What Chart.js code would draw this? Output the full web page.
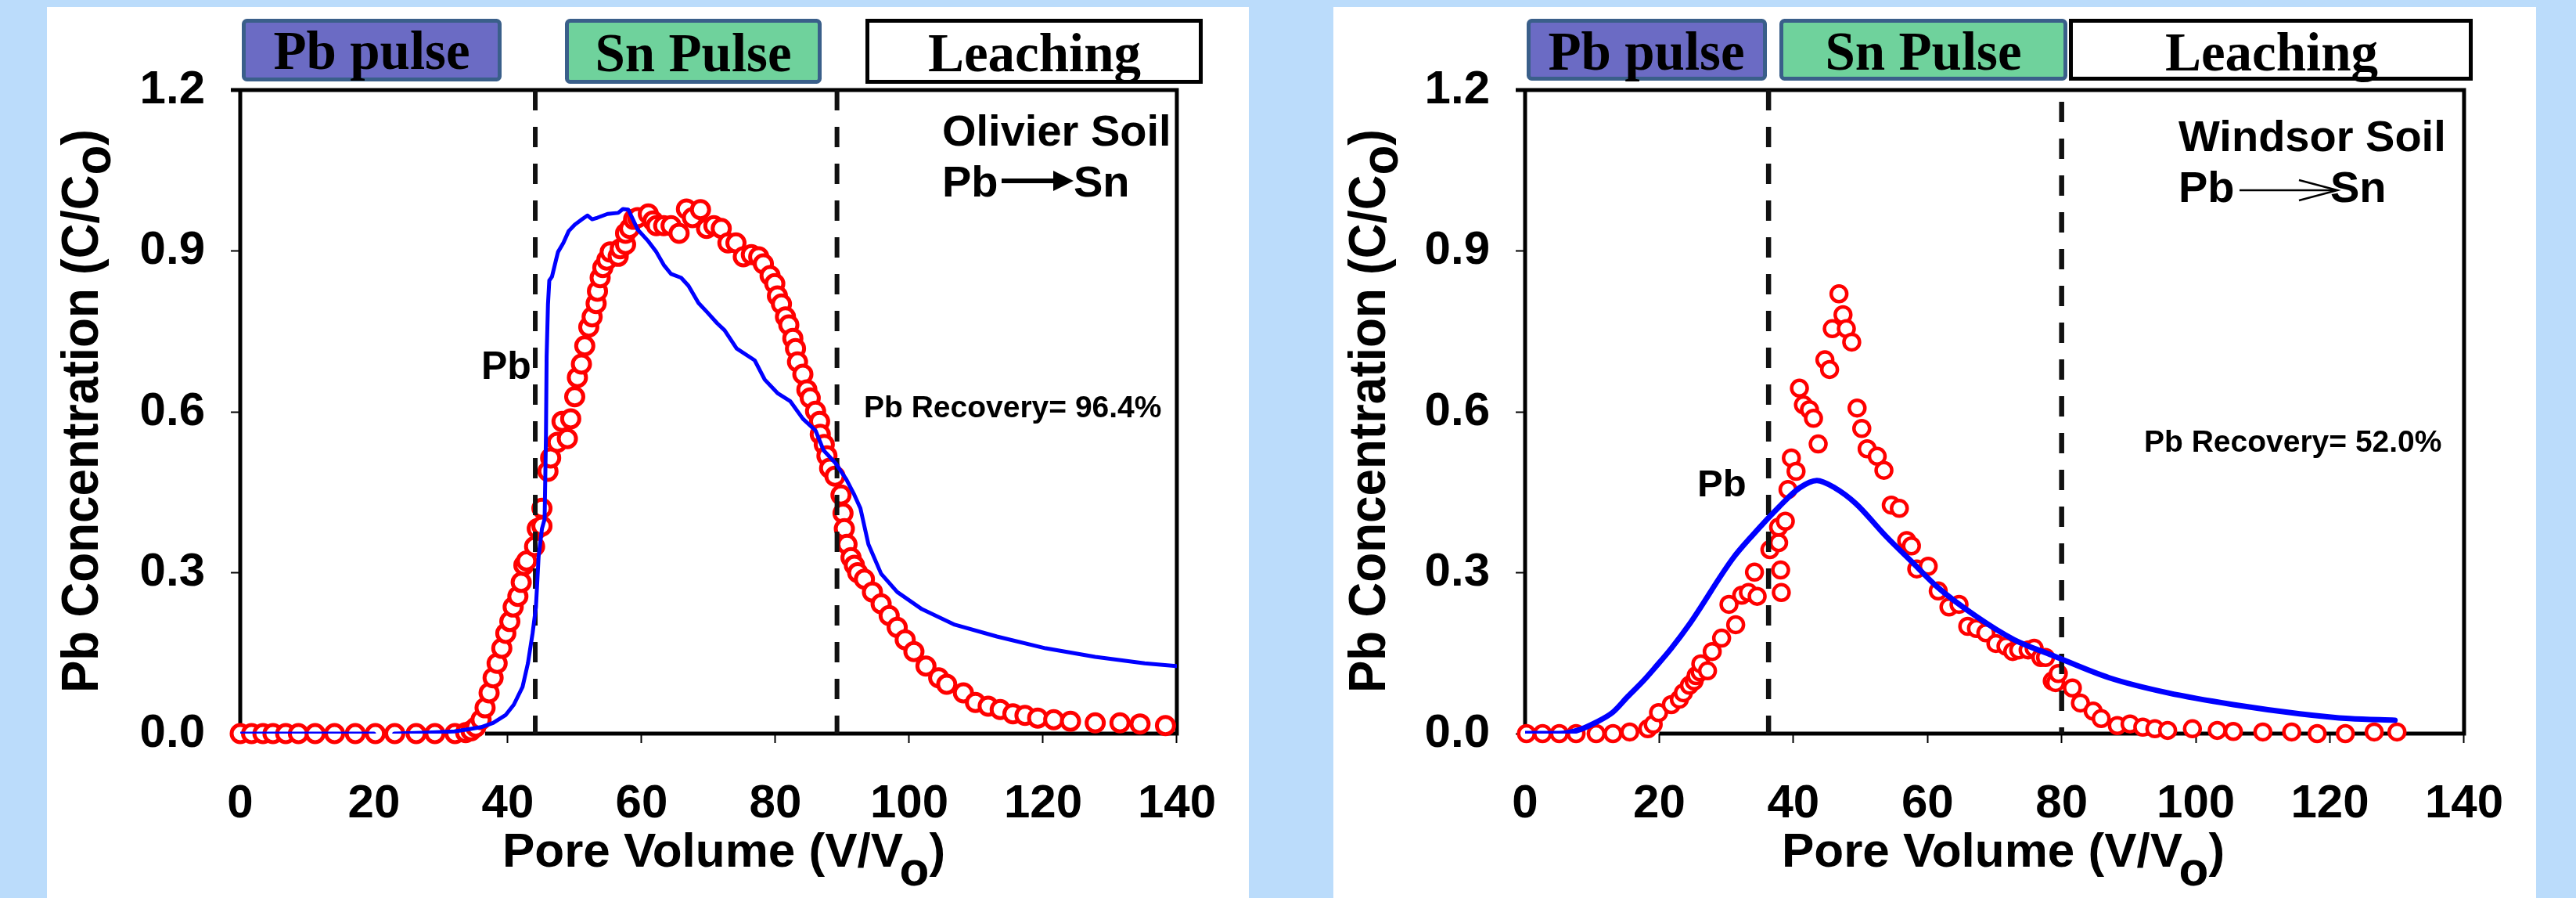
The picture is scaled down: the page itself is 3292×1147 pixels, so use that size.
<!DOCTYPE html>
<html>
<head>
<meta charset="utf-8">
<title>Pb breakthrough - Olivier / Windsor</title>
<script src="https://cdn.jsdelivr.net/npm/chart.js@4.4.1/dist/chart.umd.min.js"></script>
<style>
  html, body { margin: 0; padding: 0; }
  body { width: 3292px; height: 1147px; background: #bbdcfb; position: relative; overflow: hidden; }
  .panel { position: absolute; background: #fff; }
  #panelOlivier { left: 60px; top: 9px; width: 1536px; height: 1138px; }
  #panelWindsor { left: 1704px; top: 9px; width: 1537px; height: 1138px; }
  .panel canvas { position: absolute; left: 0; top: 0; }
  #overlay { position: absolute; left: 0; top: 0; pointer-events: none; }
  .sans { font-family: 'Liberation Sans', Arial, sans-serif; font-weight: bold; }
  .serif { font-family: 'Liberation Serif', 'Times New Roman', serif; font-weight: bold; }
</style>
</head>
<body>
<div class="panel" id="panelOlivier"><canvas id="chartOlivier" width="1536" height="1138"></canvas></div>
<div class="panel" id="panelWindsor"><canvas id="chartWindsor" width="1537" height="1138"></canvas></div>

<svg id="overlay" width="3292" height="1147">
  <!-- bandeaux des phases -->
  <g class="serif" font-size="69" text-anchor="middle">
    <rect x="311.5" y="26.5" width="327" height="75" rx="4" fill="#6b6bc4" stroke="#3a5f8a" stroke-width="5"/>
    <text x="475" y="88">Pb pulse</text>
    <rect x="724.5" y="26.5" width="323" height="78" rx="4" fill="#6fd29c" stroke="#3a5f8a" stroke-width="5"/>
    <text x="886" y="91">Sn Pulse</text>
    <rect x="1108.5" y="26.5" width="426" height="78" fill="#fff" stroke="#000" stroke-width="5"/>
    <text x="1322" y="91">Leaching</text>

    <rect x="1953.5" y="26.5" width="302" height="74" rx="4" fill="#6b6bc4" stroke="#3a5f8a" stroke-width="5"/>
    <text x="2104" y="89">Pb pulse</text>
    <rect x="2276.5" y="26.5" width="363" height="74" rx="4" fill="#6fd29c" stroke="#3a5f8a" stroke-width="5"/>
    <text x="2458" y="89">Sn Pulse</text>
    <rect x="2646.5" y="26.5" width="511" height="74" fill="#fff" stroke="#000" stroke-width="5"/>
    <text x="2903" y="90">Leaching</text>
  </g>

  <!-- titres des axes -->
  <g class="sans" text-anchor="middle" fill="#000">
    <text transform="translate(125,525) rotate(-90)" font-size="66" textLength="720" lengthAdjust="spacingAndGlyphs">Pb Concentration (C/C<tspan dy="16">o</tspan><tspan dy="-16">)</tspan></text>
    <text transform="translate(1770,525) rotate(-90)" font-size="66" textLength="720" lengthAdjust="spacingAndGlyphs">Pb Concentration (C/C<tspan dy="16">o</tspan><tspan dy="-16">)</tspan></text>
    <text x="925" y="1107" font-size="62">Pore Volume (V/V<tspan dy="24">o</tspan><tspan dy="-24">)</tspan></text>
    <text x="2560" y="1107" font-size="62">Pore Volume (V/V<tspan dy="24">o</tspan><tspan dy="-24">)</tspan></text>
  </g>

  <!-- annotations -->
  <g class="sans" fill="#000">
    <text x="1204" y="186" font-size="56">Olivier Soil</text>
    <text x="1204" y="251" font-size="56">Pb</text>
    <line x1="1280" y1="231" x2="1350" y2="231" stroke="#000" stroke-width="6"/>
    <polygon points="1346,218 1372,231 1346,244" fill="#000"/>
    <text x="1372" y="251" font-size="56">Sn</text>
    <text x="615" y="484" font-size="50">Pb</text>
    <text x="1104" y="533" font-size="39">Pb Recovery= 96.4%</text>

    <text x="2784" y="193" font-size="56">Windsor Soil</text>
    <text x="2784" y="258" font-size="56">Pb</text>
    <line x1="2862" y1="243" x2="2985" y2="243" stroke="#000" stroke-width="2.5"/>
    <polyline points="2938,230 2987,243 2938,256" fill="none" stroke="#000" stroke-width="2.5"/>
    <text x="2978" y="258" font-size="56">Sn</text>
    <text x="2169" y="634" font-size="49">Pb</text>
    <text x="2740" y="577" font-size="39">Pb Recovery= 52.0%</text>
  </g>
</svg>

<script>
// valeurs : volume de pores (V/Vo) et C/Co
const xTicks = [0, 20, 40, 60, 80, 100, 120, 140];
const yTicks = [0, 0.3, 0.6, 0.9, 1.2];

// Olivier - mesures (cercles)
const olivierObsX = [0, 1.7, 3.4, 4.9, 6.8, 8.7, 11.2, 14.1, 17.2, 20.2,
    23.1, 26.3, 29.1, 32.1, 33.7, 34.5, 35.2, 36.0, 36.6, 37.2,
    37.8, 38.4, 39.1, 39.7, 40.3, 40.8, 41.5, 42.0, 42.4, 42.8,
    44.0, 44.4, 45.1, 45.1, 46.0, 46.4, 47.4, 48.1, 48.9, 49.4,
    50.0, 50.4, 51.0, 51.5, 52.1, 52.6, 53.2, 53.4, 53.8, 54.2,
    54.8, 55.3, 56.5, 56.8, 57.6, 57.6, 58.2, 58.8, 59.4, 61.0,
    61.7, 62.2, 63.3, 64.4, 65.6, 66.7, 67.6, 68.8, 69.7, 70.8,
    71.9, 72.9, 74.1, 75.2, 76.4, 77.5, 78.2, 79.2, 79.9, 80.3,
    80.9, 81.5, 82.0, 82.6, 83.0, 83.3, 84.1, 84.7, 85.2, 86.0,
    86.6, 86.7, 87.3, 87.7, 88.1, 88.9, 89.8, 90.1, 90.3, 90.7,
    91.3, 91.8, 92.3, 93.3, 94.5, 95.8, 97.0, 98.2, 99.4, 100.7,
    102.5, 104.4, 105.6, 108.1, 109.9, 111.8, 113.6, 115.5, 117.3, 119.2,
    121.6, 124.1, 127.8, 131.5, 134.5, 138.3];
const olivierObsY = [0, 0, 0, 0, 0, 0, 0, 0, 0, 0,
    0, 0, 0, 0, 0.002, 0.005, 0.012, 0.026, 0.048, 0.076,
    0.104, 0.131, 0.159, 0.187, 0.209, 0.236, 0.256, 0.282, 0.314, 0.322,
    0.349, 0.382, 0.387, 0.42, 0.489, 0.514, 0.543, 0.582, 0.55, 0.587,
    0.628, 0.664, 0.689, 0.723, 0.758, 0.777, 0.802, 0.825, 0.85, 0.869,
    0.883, 0.898, 0.89, 0.904, 0.912, 0.933, 0.942, 0.959, 0.962, 0.969,
    0.956, 0.947, 0.947, 0.947, 0.933, 0.978, 0.962, 0.977, 0.942, 0.947,
    0.942, 0.915, 0.915, 0.889, 0.893, 0.889, 0.876, 0.854, 0.839, 0.816,
    0.801, 0.777, 0.762, 0.737, 0.718, 0.693, 0.67, 0.641, 0.626, 0.601,
    0.582, 0.558, 0.539, 0.518, 0.495, 0.48, 0.445, 0.411, 0.382, 0.353,
    0.328, 0.314, 0.30, 0.288, 0.264, 0.242, 0.22, 0.198, 0.175, 0.153,
    0.126, 0.104, 0.092, 0.076, 0.058, 0.051, 0.045, 0.037, 0.034, 0.029,
    0.026, 0.023, 0.02, 0.02, 0.018, 0.015];

// Olivier - modèle (ligne bleue), null = trou dans la courbe
const olivierFitX = [0, 5, 10, 15, 20, 21.5, 23, 28, 32, 34.1,
    36, 37.8, 39.7, 40.9, 42.2, 43.0, 43.7, 44.2, 44.6, 45.1,
    45.5, 45.7, 45.8, 46.0, 46.2, 46.6, 47.2, 47.5, 48.3, 49.1,
    50.0, 51.1, 51.9, 52.6, 53.4, 54.9, 56.5, 57.2, 58.0, 58.8,
    59.4, 61.0, 62.2, 63.3, 64.4, 65.9, 67.0, 68.5, 69.7, 71.3,
    72.4, 74.2, 76.9, 78.4, 80.3, 82.2, 84.1, 86.0, 87.2, 89.0,
    90.6, 91.8, 92.7, 93.9, 95.8, 98.2, 101.9, 106.8, 113.1, 120.4,
    127.8, 135.2, 139.9];
const olivierFitY = [0, 0, 0, 0, 0, null, 0, 0.002, 0.004, 0.008,
    0.012, 0.02, 0.035, 0.054, 0.087, 0.131, 0.187, 0.236, 0.33, 0.382,
    0.40, 0.557, 0.703, 0.80, 0.845, 0.852, 0.883, 0.898, 0.915, 0.937,
    0.949, 0.959, 0.966, 0.959, 0.962, 0.969, 0.971, 0.978, 0.977, 0.956,
    0.94, 0.918, 0.898, 0.874, 0.857, 0.85, 0.835, 0.803, 0.787, 0.765,
    0.752, 0.718, 0.696, 0.66, 0.635, 0.62, 0.587, 0.565, 0.528, 0.504,
    0.474, 0.445, 0.42, 0.353, 0.298, 0.264, 0.232, 0.203, 0.181, 0.159,
    0.143, 0.131, 0.126];

// fins des pulses (lignes pointillées)
const olivierPulseX = [44.1, 89.2];
const olivierPulseTop = [1.2, 1.2];

// Windsor - mesures
const windsorObsX = [0.2, 2.6, 5.1, 7.6, 10.6, 13.1, 15.6, 18.3, 19.1, 19.9,
    21.8, 23.0, 23.6, 24.5, 25.2, 25.5, 26.1, 26.2, 27.2, 27.9,
    29.3, 30.4, 31.4, 32.3, 33.3, 34.2, 34.6, 36.5, 37.8, 37.8,
    38.1, 38.2, 38.8, 39.2, 39.7, 40.4, 40.9, 41.5, 42.4, 43.0,
    43.7, 44.7, 45.4, 45.8, 46.8, 47.4, 47.9, 48.7, 49.5, 50.2,
    51.0, 52.5, 53.5, 54.6, 55.8, 56.9, 57.6, 58.4, 60.1, 61.6,
    63.2, 64.7, 66.0, 67.3, 68.7, 70.2, 71.7, 72.7, 73.6, 75.0,
    75.9, 76.9, 77.6, 78.6, 79.1, 79.5, 81.6, 82.8, 84.7, 85.9,
    88.3, 90.2, 92.1, 93.9, 95.8, 99.5, 103.2, 105.6, 110.0, 114.3,
    118.1, 122.3, 126.6, 130.0];
const windsorObsY = [0, 0, 0, 0, 0, 0, 0.003, 0.009, 0.017, 0.039,
    0.054, 0.064, 0.076, 0.09, 0.098, 0.108, 0.115, 0.13, 0.117, 0.153,
    0.178, 0.241, 0.203, 0.258, 0.263, 0.301, 0.256, 0.343, 0.356, 0.385,
    0.305, 0.263, 0.396, 0.455, 0.514, 0.489, 0.644, 0.613, 0.604, 0.588,
    0.54, 0.697, 0.679, 0.755, 0.82, 0.781, 0.755, 0.73, 0.607, 0.569,
    0.531, 0.517, 0.491, 0.426, 0.42, 0.36, 0.35, 0.307, 0.312, 0.266,
    0.236, 0.241, 0.2, 0.196, 0.188, 0.168, 0.163, 0.153, 0.156, 0.156,
    0.159, 0.142, 0.142, 0.098, 0.095, 0.112, 0.085, 0.057, 0.042, 0.028,
    0.015, 0.018, 0.012, 0.009, 0.006, 0.009, 0.006, 0.004, 0.003, 0.003,
    0, 0, 0.003, 0.003];

// Windsor - modèle
const windsorFitX = [0, 5, 7.8, 10.4, 13.1, 15.3, 17.6, 19.5, 21.8, 24.5,
    31.0, 34.0, 37.8, 40.9, 43.5, 46.2, 49.3, 53.8, 57.6, 61.5,
    67.2, 72.9, 78.6, 87.1, 95.8, 105.6, 115.5, 122.9, 129.7];
const windsorFitY = [0, 0, 0.006, 0.02, 0.04, 0.069, 0.098, 0.125, 0.159, 0.204,
    0.327, 0.371, 0.422, 0.458, 0.472, 0.458, 0.429, 0.368, 0.321, 0.273,
    0.219, 0.175, 0.146, 0.104, 0.076, 0.054, 0.037, 0.028, 0.025];

const windsorPulseX = [36.3, 80];
const windsorPulseTop = [1.2, 1.178];

const toPoints = (xs, ys) => xs.map((x, i) => ({ x: x, y: ys[i] }));

Chart.defaults.font.family = "'Liberation Sans', Arial, sans-serif";
Chart.defaults.color = '#000';

// cadre noir autour de la zone de tracé
const framePlugin = {
    id: 'frame',
    beforeDatasetsDraw(chart, args, opts) {
        const a = chart.chartArea;
        const ctx = chart.ctx;
        const xStart = chart.scales.x.getPixelForValue(opts.bottomFrom);
        ctx.save();
        ctx.strokeStyle = '#000';
        ctx.lineWidth = 5;
        ctx.beginPath();
        ctx.moveTo(xStart, a.bottom);
        ctx.lineTo(a.right, a.bottom);
        ctx.lineTo(a.right, a.top);
        ctx.lineTo(a.left - 12, a.top);
        ctx.moveTo(a.left, a.top);
        ctx.lineTo(a.left, a.bottom);
        ctx.stroke();
        ctx.restore();
    }
};

function makeChart(canvasId, obs, fit, pulseX, pulseTop, look) {
    const ctx = document.getElementById(canvasId).getContext('2d');

    const pulseSets = pulseX.map((x, i) => ({
        label: 'pulse ' + i,
        data: [{ x: x, y: pulseTop[i] }, { x: x, y: 0 }],
        showLine: true,
        borderColor: '#111',
        borderWidth: look.dashWidth,
        borderDash: [26, 21],
        pointRadius: 0,
        order: 2
    }));

    return new Chart(ctx, {
        type: 'scatter',
        data: {
            datasets: [
                {
                    label: 'modèle',
                    data: fit,
                    showLine: true,
                    borderColor: '#0000ff',
                    borderWidth: look.lineWidth,
                    borderCapStyle: 'round',
                    borderJoinStyle: 'round',
                    pointRadius: 0,
                    tension: look.tension,
                    cubicInterpolationMode: look.cubic,
                    spanGaps: false,
                    order: 1
                },
                {
                    label: 'mesures',
                    data: obs,
                    showLine: false,
                    pointRadius: look.r,
                    pointBorderWidth: look.bw,
                    pointBorderColor: '#ff0000',
                    pointBackgroundColor: '#ffffff',
                    clip: false,
                    order: 3
                },
                ...pulseSets
            ]
        },
        options: {
            responsive: false,
            animation: false,
            devicePixelRatio: 1,
            layout: { padding: { top: 106, right: look.padRight, left: 0, bottom: 0 } },
            plugins: {
                legend: { display: false },
                tooltip: { enabled: false },
                frame: { bottomFrom: look.bottomFrom }
            },
            scales: {
                x: {
                    type: 'linear',
                    min: 0,
                    max: 140,
                    afterBuildTicks: (s) => { s.ticks = xTicks.map(v => ({ value: v })); },
                    afterFit: (s) => { s.height = 210; },
                    border: { display: false },
                    grid: { drawOnChartArea: false, drawTicks: true, tickLength: 12, tickWidth: 2, tickColor: '#000' },
                    ticks: { color: '#000', font: { size: 60, weight: 'bold' }, padding: 42, maxRotation: 0, autoSkip: false }
                },
                y: {
                    type: 'linear',
                    min: 0,
                    max: 1.2,
                    afterBuildTicks: (s) => { s.ticks = yTicks.map(v => ({ value: v })); },
                    afterFit: (s) => { s.width = look.yWidth; },
                    border: { display: false },
                    grid: { drawOnChartArea: false, drawTicks: true, tickLength: 12, tickWidth: 2, tickColor: '#000' },
                    ticks: {
                        color: '#000',
                        font: { size: 60, weight: 'bold' },
                        padding: 33,
                        autoSkip: false,
                        callback: (v) => Number(v).toFixed(1)
                    }
                }
            }
        },
        plugins: [framePlugin]
    });
}

makeChart('chartOlivier',
    toPoints(olivierObsX, olivierObsY),
    toPoints(olivierFitX, olivierFitY),
    olivierPulseX, olivierPulseTop,
    { yWidth: 247, padRight: 56, lineWidth: 5, tension: 0, cubic: 'default', r: 11, bw: 5, dashWidth: 6, bottomFrom: 36.6 });

makeChart('chartWindsor',
    toPoints(windsorObsX, windsorObsY),
    toPoints(windsorFitX, windsorFitY),
    windsorPulseX, windsorPulseTop,
    { yWidth: 245, padRight: 68, lineWidth: 7, tension: 0.4, cubic: 'monotone', r: 10, bw: 4.5, dashWidth: 6.5, bottomFrom: 20 });
</script>
</body>
</html>
